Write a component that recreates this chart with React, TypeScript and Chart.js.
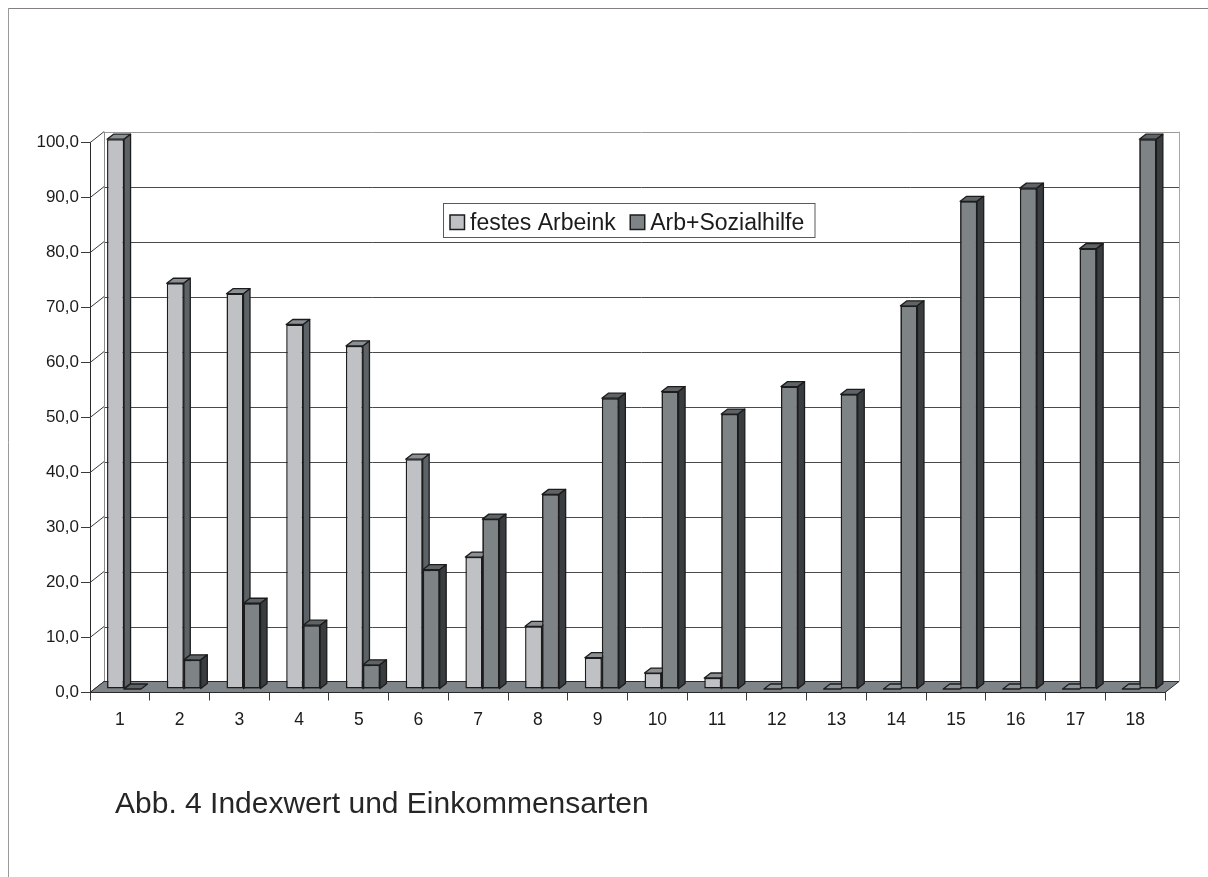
import React, { useEffect, useRef } from "react";
import { Chart, registerables } from "chart.js";

Chart.register(...registerables);

// Categories 1..18 and the two income series (index values)
const categories = ["1", "2", "3", "4", "5", "6", "7", "8", "9", "10", "11", "12", "13", "14", "15", "16", "17", "18"];
const festesArbeink = [100, 73.8, 71.9, 66.3, 62.4, 41.8, 24.0, 11.4, 5.7, 2.9, 2.0, 0, 0, 0, 0, 0, 0, 0];
const arbSozialhilfe = [0, 5.3, 15.6, 11.6, 4.4, 21.7, 30.9, 35.4, 52.9, 54.1, 50.0, 55.0, 53.6, 69.7, 88.7, 91.1, 80.1, 100];
const seriesLabels = ["festes Arbeink", "Arb+Sozialhilfe"];
const yMin = 0;
const yMax = 100;
const yStep = 10;
const caption = "Abb. 4 Indexwert und Einkommensarten";

const FONT = '"Liberation Sans", Arial, Helvetica, sans-serif';
const TEXT = "#1b1b1b";
const EDGE = "#1c1c1c";

// face colours per series: front, top, side
const FACES = [
  { front: "#c0c1c5", top: "#8b9094", side: "#5c6266" },
  { front: "#7e8386", top: "#5d6367", side: "#393d40" },
];

// pseudo-3D geometry
const WALL_DX = 14;
const WALL_DY = -11;
const BAR_SHIFT_X = 4.2;
const BAR_SHIFT_Y = -3.5;
const BAR_DX = 6.5;
const BAR_DY = -5;

const line = (ctx: CanvasRenderingContext2D, x1: number, y1: number, x2: number, y2: number) => {
  ctx.beginPath();
  ctx.moveTo(x1, y1);
  ctx.lineTo(x2, y2);
  ctx.stroke();
};

const poly = (ctx: CanvasRenderingContext2D, pts: number[][], fill: string) => {
  ctx.beginPath();
  ctx.moveTo(pts[0][0], pts[0][1]);
  for (let i = 1; i < pts.length; i++) ctx.lineTo(pts[i][0], pts[i][1]);
  ctx.closePath();
  ctx.fillStyle = fill;
  ctx.fill();
  ctx.stroke();
};

const drawFaces = (ctx: CanvasRenderingContext2D, el: any, faces: { top: string; side: string }) => {
  const { x, y, base, width } = el.getProps(["x", "y", "base", "width"], true);
  const l = x - width / 2;
  const r = x + width / 2;
  const top = Math.min(y, base);
  const bottom = Math.max(y, base);
  ctx.strokeStyle = EDGE;
  ctx.lineWidth = 1.3;
  ctx.lineJoin = "round";
  poly(ctx, [[l, top], [r, top], [r + BAR_DX, top + BAR_DY], [l + BAR_DX, top + BAR_DY]], faces.top);
  if (bottom - top > 0.5) {
    poly(ctx, [[r, top], [r + BAR_DX, top + BAR_DY], [r + BAR_DX, bottom + BAR_DY], [r, bottom]], faces.side);
  }
};

const depthPlugin = {
  id: "depthPlugin",
  beforeDraw(chart: any) {
    const { ctx, width, height } = chart;
    ctx.save();
    ctx.fillStyle = "#ffffff";
    ctx.fillRect(0, 0, width, height);
    ctx.restore();
  },
  beforeDatasetsDraw(chart: any) {
    const { ctx, chartArea: a, scales } = chart;
    const ys = scales.y;
    const bl = a.left + WALL_DX;
    const br = a.right + WALL_DX;
    const bt = a.top + WALL_DY;
    const bb = a.bottom + WALL_DY;
    ctx.save();
    ctx.lineWidth = 1;
    // back wall
    ctx.fillStyle = "#ffffff";
    ctx.fillRect(bl, bt, br - bl, bb - bt);
    ys.ticks.forEach((t: any) => {
      const py = Math.round(ys.getPixelForValue(t.value) + WALL_DY) + 0.5;
      if (t.value < yMax && t.value > yMin) {
        ctx.strokeStyle = "#4a4a4a";
        line(ctx, bl, py, br, py);
      }
      ctx.strokeStyle = "#3a3a3a";
      line(ctx, a.left, ys.getPixelForValue(t.value), bl, ys.getPixelForValue(t.value) + WALL_DY);
    });
    ctx.strokeStyle = "#9a9a9a";
    line(ctx, bl, Math.round(bt) + 0.5, br, Math.round(bt) + 0.5);
    ctx.strokeStyle = "#a8a8a8";
    line(ctx, Math.round(br) + 0.5, bt, Math.round(br) + 0.5, bb);
    ctx.strokeStyle = "#8c8c8c";
    line(ctx, Math.round(bl) + 0.5, bt, Math.round(bl) + 0.5, bb);
    // floor
    ctx.strokeStyle = "#2a2a2a";
    ctx.lineJoin = "miter";
    poly(ctx, [[a.left, a.bottom], [a.right, a.bottom], [br, bb], [bl, bb]], "#7f8488");
    ctx.restore();
    // bars stand halfway into the depth
    ctx.save();
    ctx.translate(BAR_SHIFT_X, BAR_SHIFT_Y);
  },
  afterDatasetsDraw(chart: any) {
    const { ctx } = chart;
    const m0 = chart.getDatasetMeta(0);
    const m1 = chart.getDatasetMeta(1);
    for (let i = 0; i < m0.data.length; i++) {
      drawFaces(ctx, m0.data[i], FACES[0]);
      m1.data[i].draw(ctx);
      drawFaces(ctx, m1.data[i], FACES[1]);
    }
    ctx.restore();
  },
  afterDraw(chart: any) {
    const { ctx, width, height } = chart;
    ctx.save();
    // outer frame
    ctx.lineWidth = 1;
    ctx.strokeStyle = "#857f7f";
    line(ctx, 8, 8.5, width, 8.5);
    ctx.strokeStyle = "#9a9a9a";
    line(ctx, 8.5, 8, 8.5, height);

    // legend
    const lx = 443.5;
    const ly = 203.5;
    const lw = 371.5;
    const lh = 34;
    ctx.fillStyle = "#ffffff";
    ctx.fillRect(lx, ly, lw, lh);
    ctx.strokeStyle = "#5a5a5a";
    ctx.strokeRect(lx, ly, lw, lh);
    ctx.font = `23px ${FONT}`;
    ctx.textBaseline = "alphabetic";
    let x = 450;
    chart.data.datasets.forEach((ds: any, i: number) => {
      ctx.fillStyle = ds.backgroundColor;
      ctx.fillRect(x, 215, 14.5, 14.5);
      ctx.strokeStyle = EDGE;
      ctx.lineWidth = 1.5;
      ctx.strokeRect(x, 215, 14.5, 14.5);
      ctx.fillStyle = TEXT;
      ctx.fillText(ds.label, x + 20, 230);
      x += 20 + ctx.measureText(ds.label).width + 14.5;
    });

    // caption
    ctx.font = `30px ${FONT}`;
    ctx.fillStyle = "#262626";
    ctx.fillText(caption, 115, 813);
    ctx.restore();
  },
};

export default function App() {
  const ref = useRef<HTMLCanvasElement | null>(null);

  useEffect(() => {
    if (!ref.current) return;
    const chart = new Chart(ref.current, {
      type: "bar",
      data: {
        labels: categories,
        datasets: [
          {
            label: seriesLabels[0],
            data: festesArbeink,
            backgroundColor: FACES[0].front,
            borderColor: EDGE,
            borderWidth: 1.5,
            borderSkipped: false,
            clip: false,
          },
          {
            label: seriesLabels[1],
            data: arbSozialhilfe,
            backgroundColor: FACES[1].front,
            borderColor: EDGE,
            borderWidth: 1.5,
            borderSkipped: false,
            clip: false,
          },
        ],
      },
      options: {
        responsive: false,
        animation: false,
        devicePixelRatio: 1,
        layout: { padding: { left: 0, right: 43, top: 142.7, bottom: 144.5 } },
        datasets: { bar: { categoryPercentage: 0.57, barPercentage: 1 } },
        plugins: { legend: { display: false }, tooltip: { enabled: false }, title: { display: false } },
        scales: {
          x: {
            offset: true,
            grid: { offset: true, drawOnChartArea: false, drawTicks: true, tickLength: 8, color: "#3a3a3a" },
            border: { display: true, color: "#2a2a2a" },
            ticks: { color: TEXT, font: { family: FONT, size: 17.5 }, padding: 9, maxRotation: 0 },
            afterFit: (s: any) => {
              s.height = 40;
            },
          },
          y: {
            min: yMin,
            max: yMax,
            grid: { drawOnChartArea: false, drawTicks: true, tickLength: 9, color: "#3a3a3a" },
            border: { display: true, color: "#2a2a2a" },
            ticks: {
              stepSize: yStep,
              color: TEXT,
              font: { family: FONT, size: 17 },
              padding: 2,
              callback: (v: any) => Number(v).toFixed(1).replace(".", ","),
            },
            afterFit: (s: any) => {
              s.width = 90;
            },
          },
        },
      } as any,
      plugins: [depthPlugin],
    });
    return () => chart.destroy();
  }, []);

  return (
    <div style={{ position: "fixed", left: 0, top: 0, width: 1208, height: 877, background: "#fff" }}>
      <canvas ref={ref} width={1208} height={877} style={{ display: "block", width: 1208, height: 877 }} />
    </div>
  );
}
